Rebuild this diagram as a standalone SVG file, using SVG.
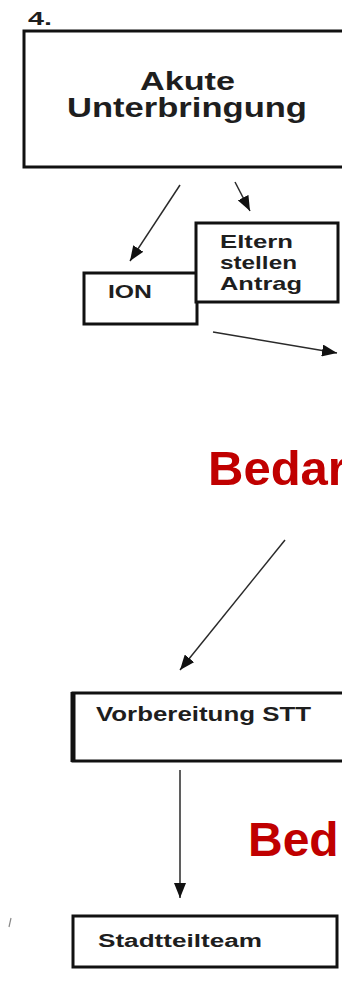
<svg xmlns="http://www.w3.org/2000/svg" width="342" height="981" viewBox="0 0 342 981">
<style>
.box{fill:#fff;stroke:#111;stroke-width:3}
.t{font-family:"Liberation Sans",Arial,sans-serif;font-weight:bold;fill:#1e1e1e}
.red{font-family:"Liberation Sans",Arial,sans-serif;font-weight:bold;fill:#c00000}
.c{stroke:#2a2a2a;stroke-width:1.5;fill:none;marker-end:url(#ah)}
</style>
<defs>
<marker id="ah" markerUnits="userSpaceOnUse" markerWidth="16" markerHeight="12" refX="15" refY="6" orient="auto">
<path d="M0,0 L15,6 L0,12 z" fill="#111"/>
</marker>
</defs>
<rect width="342" height="981" fill="#fff"/>
<text class="t" x="28" y="25" font-size="19" textLength="24" lengthAdjust="spacingAndGlyphs">4.</text>
<g id="akute">
<rect class="box" x="24" y="31" width="340" height="136" stroke-width="4"/>
<text class="t" x="140" y="90" font-size="25" textLength="95" lengthAdjust="spacingAndGlyphs">Akute</text>
<text class="t" x="67" y="117" font-size="27" textLength="240" lengthAdjust="spacingAndGlyphs">Unterbringung</text>
</g>
<g id="ion">
<rect class="box" x="84" y="273" width="113" height="51"/>
<text class="t" x="108" y="298" font-size="18" textLength="44" lengthAdjust="spacingAndGlyphs">ION</text>
</g>
<g id="eltern">
<rect class="box" x="196" y="223" width="142" height="79"/>
<text class="t" x="220" y="248" font-size="19" textLength="73" lengthAdjust="spacingAndGlyphs">Eltern</text>
<text class="t" x="220" y="269" font-size="19" textLength="77" lengthAdjust="spacingAndGlyphs">stellen</text>
<text class="t" x="220" y="290" font-size="19" textLength="82" lengthAdjust="spacingAndGlyphs">Antrag</text>
</g>
<text class="red" x="208" y="485" font-size="49">Bedar</text>
<g id="vorbereitung">
<rect class="box" x="73" y="693" width="290" height="68"/>
<line x1="73" y1="692" x2="73" y2="762" stroke="#111" stroke-width="5"/>
<text class="t" x="96" y="721" font-size="20" textLength="215" lengthAdjust="spacingAndGlyphs">Vorbereitung STT</text>
</g>
<text class="red" x="248" y="856" font-size="48">Bed</text>
<g id="stadtteilteam">
<rect class="box" x="73" y="916" width="264" height="51"/>
<text class="t" x="98" y="947" font-size="18" textLength="164" lengthAdjust="spacingAndGlyphs">Stadtteilteam</text>
</g>
<line x1="11" y1="918" x2="9" y2="927" stroke="#888" stroke-width="1.2"/>
<g id="connectors">
<line class="c" x1="180" y1="185" x2="130" y2="261"/>
<line class="c" x1="235" y1="182" x2="250" y2="211"/>
<line class="c" x1="213" y1="332" x2="337" y2="353"/>
<line class="c" x1="285" y1="540" x2="180" y2="670"/>
<line class="c" x1="180" y1="770" x2="180" y2="898" stroke="#666"/>
</g>
</svg>
